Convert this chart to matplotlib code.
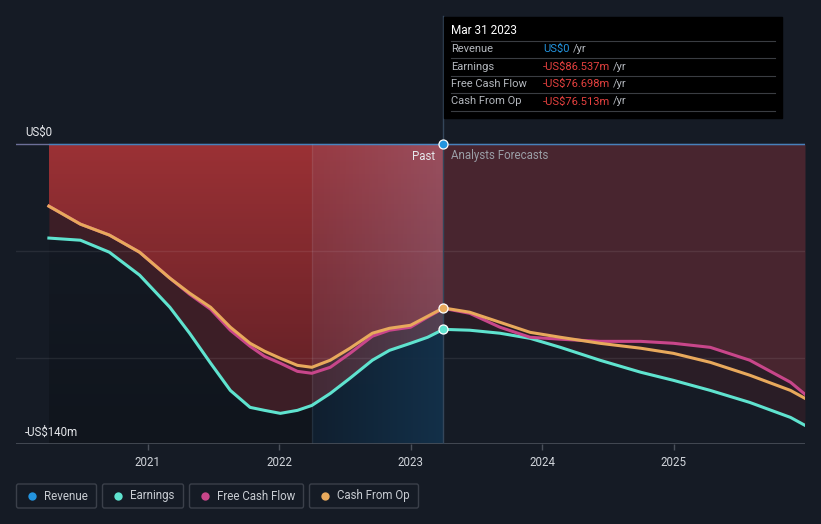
"""Revenue / earnings / cash flow history and forecast chart."""

import numpy as np
import matplotlib.pyplot as plt
from matplotlib.patches import FancyBboxPatch, Rectangle
from matplotlib.colors import to_rgb

plt.rcParams["font.family"] = ["Roboto", "DejaVu Sans"]

BG = "#151b25"
C_REV = "#2394df"
C_EARN = "#5fe3cf"
C_FCF = "#c8468a"
C_CFO = "#e8a95c"

# past series (decimal years, US$m)
past_t = [2020.25, 2020.49, 2020.71, 2020.94, 2021.17, 2021.32, 2021.48, 2021.63,
          2021.78, 2021.89, 2022.01, 2022.14, 2022.25, 2022.39, 2022.54, 2022.71,
          2022.84, 2023.00, 2023.13, 2023.25]
past_cfo = [-29.0, -37.4, -42.5, -50.5, -62.6, -69.6, -76.2, -85.5, -93.0, -96.7,
            -100.0, -103.3, -104.2, -100.9, -95.3, -88.3, -86.0, -84.6, -80.4, -76.5]
past_fcf = [-29.0, -37.4, -42.5, -50.5, -62.6, -70.1, -77.1, -86.9, -94.4, -99.1,
            -102.3, -106.1, -107.0, -104.2, -97.7, -89.7, -86.9, -85.5, -80.8, -76.7]
past_earn = [-43.9, -44.9, -50.5, -61.2, -76.2, -88.3, -102.3, -115.0, -122.9, -124.3,
             -125.7, -124.3, -122.0, -116.4, -109.3, -100.9, -96.3, -93.0, -90.2, -86.5]

# analyst forecasts
fc_t = [2023.25, 2023.45, 2023.68, 2023.91, 2024.14, 2024.44, 2024.75, 2025.00,
        2025.28, 2025.58, 2025.89, 2026.00]
fc_cfo = [-76.5, -78.5, -83.2, -87.9, -90.2, -93.0, -95.3, -97.7, -101.9, -107.9, -115.0, -118.7]
fc_fcf = [-76.7, -79.0, -85.5, -90.2, -91.1, -92.1, -92.1, -93.0, -94.9, -100.9, -111.2, -116.8]
fc_earn = [-86.5, -86.9, -88.3, -90.7, -94.9, -100.9, -106.5, -110.3, -115.0, -120.6, -127.6, -131.3]

rev_t = [2020.25, 2023.25, 2026.00]
rev = [0.0, 0.0, 0.0]

now_t = 2023.25
highlight_start = 2022.25
year_ticks = [2021, 2022, 2023, 2024, 2025]

W, H = 821, 524
fig = plt.figure(figsize=(W / 100, H / 100), dpi=100, facecolor=BG)

# main axes: y=0 at px 144, -140 at px 444
px_per_m = 300 / 140
top_val = (144 - 10) / px_per_m
ax = fig.add_axes([16 / W, (H - 444) / H, 789 / W, 434 / H])
ax.set_facecolor(BG)
ax.set_xlim(2020, 2026)
ax.set_ylim(-140, top_val)
for s in ax.spines.values():
    s.set_visible(False)


def gradient_fill(ax, x, y_top, y_bot, c0, c1, a0, a1, z, horizontal=False):
    """Fill between two curves with a colour gradient (vertical by default)."""
    poly = ax.fill_between(x, y_top, y_bot, color="none", lw=0, zorder=z)
    path = poly.get_paths()[0]
    n = 256
    f = np.linspace(0, 1, n)
    rgb = np.array(to_rgb(c0))[None, :] * (1 - f[:, None]) + np.array(to_rgb(c1))[None, :] * f[:, None]
    alpha = a0 * (1 - f) + a1 * f
    rgba = np.column_stack([rgb, alpha])
    if horizontal:
        img = np.repeat(rgba[None, :, :], 2, axis=0)
    else:
        img = np.repeat(rgba[:, None, :], 2, axis=1)
    im = ax.imshow(img, extent=[min(x), max(x), -140, 0], aspect="auto",
                   origin="upper", zorder=z, interpolation="bilinear")
    im.set_clip_path(path, transform=ax.transData)
    return im


pt = np.array(past_t)
pcfo = np.array(past_cfo)
pearn = np.array(past_earn)
ft = np.array(fc_t)
fcfo = np.array(fc_cfo)
ffcf = np.array(fc_fcf)
fearn = np.array(fc_earn)

# past fills
gradient_fill(ax, pt, np.zeros_like(pt), pcfo, "#a03236", "#5a1e24", 0.97, 0.97, 1)
ax.fill_between(pt, pcfo, pearn, color="#3c1e26", lw=0, zorder=1)
gradient_fill(ax, pt, pearn, np.full_like(pt, -140), "#151b25", "#10151d", 1.0, 1.0, 1)

# forecast fills
f_upper = np.maximum(fcfo, ffcf)
ax.fill_between(ft, 0, f_upper, color="#48252f", lw=0, zorder=1)
ax.fill_between(ft, f_upper, fearn, color="#2a1d26", lw=0, zorder=1)

# highlight of the last year before now
mask = pt >= highlight_start
gradient_fill(ax, pt[mask], np.zeros(mask.sum()), pearn[mask],
              "#8a98c8", "#9aa8d8", 0.1, 0.26, 2, horizontal=True)
gradient_fill(ax, pt[mask], pearn[mask], np.full(mask.sum(), -140),
              "#102132", "#14324c", 0.9, 0.95, 2, horizontal=True)
ax.plot([highlight_start, highlight_start], [-140, 0], color="#ffffff", alpha=0.08,
        lw=1, zorder=2)

# grid lines
for g in (-50, -100):
    ax.axhline(g, color="#ffffff", alpha=0.08, lw=1, zorder=1.5)
ax.axhline(0, color="#6c6f98", lw=1, zorder=1.5)
ax.axhline(-140, color="#4a505a", lw=1.2, zorder=3)

# series lines
lw = 2.2
ax.plot(rev_t, rev, color=C_REV, lw=1, alpha=0.5, zorder=4)
ax.plot(pt, past_earn, color=C_EARN, lw=lw, zorder=5)
ax.plot(ft, fc_earn, color=C_EARN, lw=lw, zorder=5)
ax.plot(pt, past_fcf, color=C_FCF, lw=lw, zorder=5)
ax.plot(ft, fc_fcf, color=C_FCF, lw=lw, zorder=5)
ax.plot(pt, past_cfo, color=C_CFO, lw=lw, zorder=6)
ax.plot(ft, fc_cfo, color=C_CFO, lw=lw, zorder=6)

# now line and dots
ax.plot([now_t, now_t], [-140, top_val - 3], color="#34465a", lw=1, zorder=3)
for val, c in ((0.0, C_REV), (past_cfo[-1], C_CFO), (past_earn[-1], C_EARN)):
    ax.plot(now_t, val, "o", ms=6.5, color=c, mec="white", mew=0.9, zorder=8)

ax.text(now_t - 0.06, -5.6, "Past", color="#e6e8ec", fontsize=8.3, ha="right", va="center", zorder=9)
ax.text(now_t + 0.06, -5.6, "Analysts Forecasts", color="#9a9ea6", fontsize=8.3, ha="left",
        va="center", zorder=9)

ax.text(2020.07, 5.6, "US$0", color="#e6e8ec", fontsize=8.3, ha="left", va="center")
ax.text(2020.07, -134.5, "-US$140m", color="#e6e8ec", fontsize=8.3, ha="left", va="center")

ax.set_yticks([])
ax.set_xticks(year_ticks)
ax.set_xticklabels([str(y) for y in year_ticks])
ax.tick_params(axis="x", colors="#4a505a", length=4, width=1, pad=5, labelcolor="#d0d4da",
               labelsize=8.3)

# overlay for tooltip and legend, pixel coordinates
ov = fig.add_axes([0, 0, 1, 1])
ov.set_xlim(0, W)
ov.set_ylim(H, 0)
ov.axis("off")
ov.patch.set_alpha(0)

ov.add_patch(Rectangle((444, 17), 338, 101, color="#000000", zorder=1))
ov.text(451, 31, "Mar 31 2023", color="white", fontsize=8.5, va="center", zorder=2)
rows = [("Revenue", "US$0", C_REV),
        ("Earnings", "-US$86.537m", "#e5413f"),
        ("Free Cash Flow", "-US$76.698m", "#e5413f"),
        ("Cash From Op", "-US$76.513m", "#e5413f")]
fig.canvas.draw()
renderer = fig.canvas.get_renderer()
for i, (lab, val, c) in enumerate(rows):
    y = 49 + i * 17.5
    ov.plot([451, 775], [y - 8.5, y - 8.5], color="#3a3d42", lw=0.8, zorder=2)
    ov.text(451, y, lab, color="#b4b8be", fontsize=8, va="center", zorder=2)
    t = ov.text(543, y, val, color=c, fontsize=8, va="center", zorder=2)
    bb = t.get_window_extent(renderer)
    ov.text(543 + (bb.x1 - bb.x0) + 3, y, "/yr", color="#b4b8be", fontsize=8, va="center", zorder=2)
ov.plot([451, 775], [111, 111], color="#3a3d42", lw=0.8, zorder=2)

# legend boxes
legend = [("Revenue", C_REV, 16, 97), ("Earnings", C_EARN, 102, 184),
          ("Free Cash Flow", C_FCF, 189, 304), ("Cash From Op", C_CFO, 309, 419)]
for lab, c, x0, x1 in legend:
    ov.add_patch(FancyBboxPatch((x0 + 0.5, 484), x1 - x0 - 1, 24,
                                boxstyle="round,pad=0,rounding_size=2",
                                fc="none", ec="#3b404a", lw=1))
    ov.plot(x0 + 16, 496, "o", ms=6, color=c, mec="none")
    ov.text(x0 + 28, 496, lab, color="#c8ccd2", fontsize=8.3, va="center")

fig.savefig("out.png", dpi=100, facecolor=BG)
